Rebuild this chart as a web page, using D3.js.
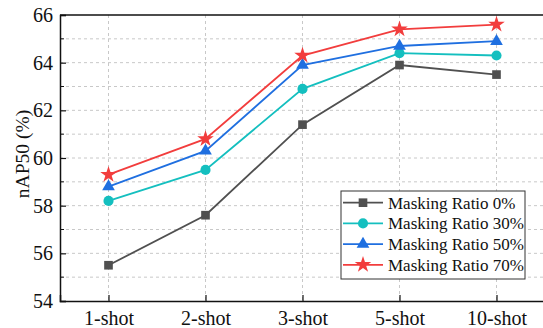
<!DOCTYPE html>
<html>
<head>
<meta charset="utf-8">
<script src="https://cdn.jsdelivr.net/npm/d3@7"></script>
<style>
  body { margin: 0; background: #fff; }
</style>
</head>
<body>
<div id="chart"></div>
<script>
var shots = ['1-shot', '2-shot', '3-shot', '5-shot', '10-shot'];
var yTicks = [54, 56, 58, 60, 62, 64, 66];
var seriesNames = ['Masking Ratio 0%', 'Masking Ratio 30%', 'Masking Ratio 50%', 'Masking Ratio 70%'];
var ratio0 = [55.5, 57.6, 61.4, 63.9, 63.5];
var ratio30 = [58.2, 59.5, 62.9, 64.4, 64.3];
var ratio50 = [58.8, 60.3, 63.9, 64.7, 64.9];
var ratio70 = [59.3, 60.8, 64.3, 65.4, 65.6];

(function() {
    'use strict';
    var width = 543, height = 328;
    var m = { left: 60, right: 545, top: 15, bottom: 301 };
    var font = "'Liberation Serif'";

    var series = [
        { name: seriesNames[0], values: ratio0, color: '#505050', symbol: d3.symbolSquare, size: 75 },
        { name: seriesNames[1], values: ratio30, color: '#14bfbf', symbol: d3.symbolCircle, size: 80 },
        { name: seriesNames[2], values: ratio50, color: '#1f6fe0', symbol: d3.symbolTriangle, size: 70 },
        { name: seriesNames[3], values: ratio70, color: '#f23d3d', symbol: d3.symbolStar, size: 85 }
    ];

    var svg = d3.select('#chart').append('svg')
        .attr('width', width)
        .attr('height', height);

    var x = d3.scalePoint().domain(shots).range([m.left, m.right]).padding(0.5);
    var y = d3.scaleLinear().domain([54, 66]).range([m.bottom, m.top]);

    // dashed grid
    var minor = d3.range(55, 66, 1);
    svg.append('g').selectAll('line').data(minor).enter().append('line')
        .attr('x1', m.left).attr('x2', m.right)
        .attr('y1', function(d) { return y(d); })
        .attr('y2', function(d) { return y(d); })
        .attr('stroke', '#c8c8c8').attr('stroke-width', 1)
        .attr('stroke-dasharray', '3,3');

    svg.append('g').selectAll('line').data(shots).enter().append('line')
        .attr('x1', function(d) { return x(d); })
        .attr('x2', function(d) { return x(d); })
        .attr('y1', m.top).attr('y2', m.bottom)
        .attr('stroke', '#c8c8c8').attr('stroke-width', 1)
        .attr('stroke-dasharray', '3,3');

    // axes
    var yAxis = d3.axisLeft(y).tickValues(yTicks).tickSize(-6).tickPadding(7);
    var gy = svg.append('g').attr('transform', 'translate(' + m.left + ',0)').call(yAxis);
    gy.append('g').selectAll('line').data(minor.filter(function(d) { return d % 2 === 1; }))
        .enter().append('line')
        .attr('x1', 0).attr('x2', 4)
        .attr('y1', function(d) { return y(d); })
        .attr('y2', function(d) { return y(d); })
        .attr('stroke', '#111');

    var xAxis = d3.axisBottom(x).tickSize(-6).tickPadding(10);
    var gx = svg.append('g').attr('transform', 'translate(0,' + m.bottom + ')').call(xAxis);

    gy.attr('font-family', null);
    gx.attr('font-family', null);
    svg.selectAll('.tick text')
        .style('font-family', font)
        .style('font-size', '20px')
        .attr('fill', '#111');
    svg.selectAll('.domain').attr('stroke', '#111').attr('stroke-width', 1.5);
    svg.selectAll('.tick line').attr('stroke', '#111').attr('stroke-width', 1.2);

    // top border
    svg.append('line')
        .attr('x1', m.left).attr('x2', m.right)
        .attr('y1', m.top).attr('y2', m.top)
        .attr('stroke', '#111').attr('stroke-width', 1.5);

    svg.append('text')
        .attr('transform', 'translate(29,154) rotate(-90)')
        .attr('text-anchor', 'middle')
        .style('font-family', font)
        .style('font-size', '19.5px')
        .attr('fill', '#111')
        .text('nAP50 (%)');

    // lines and markers
    var line = d3.line()
        .x(function(d, i) { return x(shots[i]); })
        .y(function(d) { return y(d); });

    series.forEach(function(s) {
        svg.append('path')
            .datum(s.values)
            .attr('d', line)
            .attr('fill', 'none')
            .attr('stroke', s.color)
            .attr('stroke-width', 1.8);
        svg.append('g').selectAll('path').data(s.values).enter().append('path')
            .attr('d', d3.symbol().type(s.symbol).size(s.size))
            .attr('transform', function(d, i) { return 'translate(' + x(shots[i]) + ',' + y(d) + ')'; })
            .attr('fill', s.color);
    });

    // legend
    var lg = svg.append('g').attr('transform', 'translate(341,191)');
    lg.append('rect')
        .attr('width', 184).attr('height', 88)
        .attr('fill', '#fff').attr('stroke', '#333').attr('stroke-width', 1);

    series.forEach(function(s, i) {
        var cy = 11.7 + i * 20.7;
        lg.append('line')
            .attr('x1', 2).attr('x2', 42)
            .attr('y1', cy).attr('y2', cy)
            .attr('stroke', s.color).attr('stroke-width', 1.8);
        lg.append('path')
            .attr('d', d3.symbol().type(s.symbol).size(s.size))
            .attr('transform', 'translate(22,' + cy + ')')
            .attr('fill', s.color);
        lg.append('text')
            .attr('x', 47).attr('y', cy)
            .attr('dy', '0.35em')
            .style('font-family', font)
            .style('font-size', '17px')
            .attr('fill', '#111')
            .text(s.name);
    });
})();
</script>
</body>
</html>
